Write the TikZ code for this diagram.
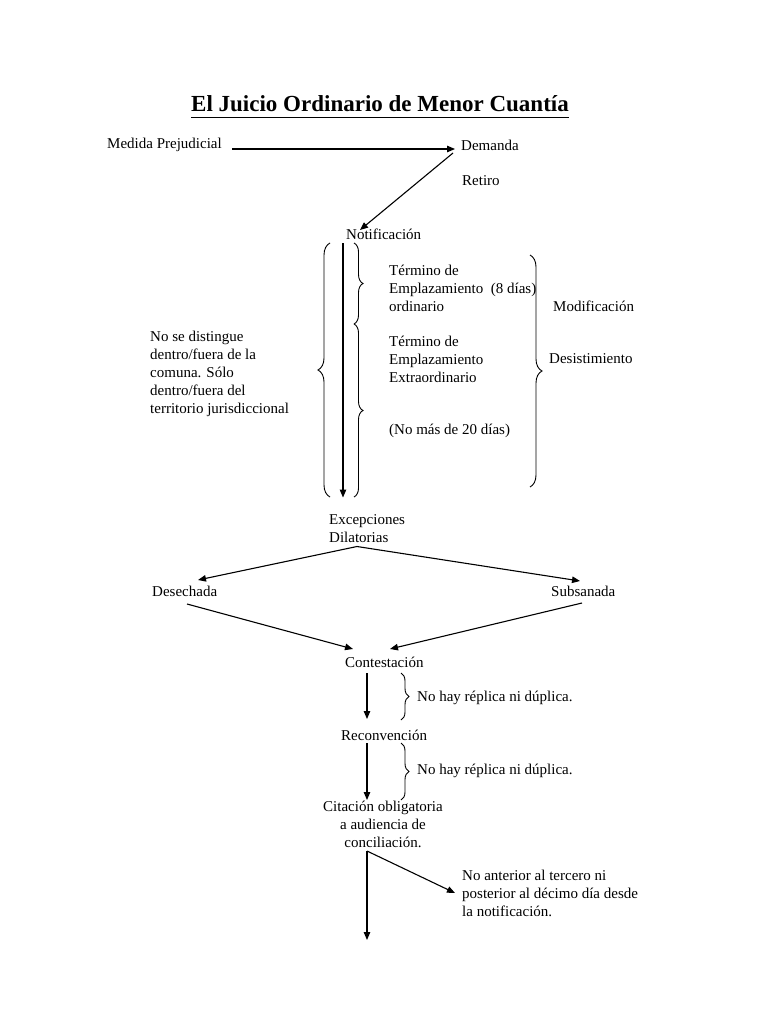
\documentclass[tikz,border=0pt]{standalone}
\usepackage{fontspec}
\setmainfont{Liberation Serif}
\usetikzlibrary{arrows.meta,calc,decorations.pathreplacing}
\begin{document}
\begin{tikzpicture}[x=1pt,y=-1pt,
  lbl/.style={inner sep=0pt,anchor=west,font=\fontsize{15}{18}\selectfont,align=left},
  arr/.style={line width=1.1pt,-{Triangle[length=8pt,width=6.5pt]}},
  brc/.style={line width=0.9pt,decorate,decoration={brace,amplitude=#1}},
  brc/.default=10pt]
\useasboundingbox (0,0) rectangle (768,1024);
\fill[white] (0,0) rectangle (768,1024);
% title
\node[inner sep=0pt,font=\fontsize{23}{28}\selectfont\bfseries] (title) at (380,104) {El Juicio Ordinario de Menor Cuantía};
\draw[line width=1.3pt] ([yshift=-6pt]title.base west) -- ([yshift=-6pt]title.base east);
% nodes
\node[lbl] (med) at (107,145) {Medida Prejudicial};
\node[lbl] (dem) at (461,145) {Demanda};
\node[lbl] (ret) at (462,181) {Retiro};
\node[lbl] (notif) at (346,234) {Notificación};
\node[lbl] (t1) at (389,288) {Término de\\Emplazamiento~~(8 días)\\ordinario};
\node[lbl] (t2) at (389,359) {Término de\\Emplazamiento\\Extraordinario};
\node[lbl] (nomas) at (389,431) {(No más de 20 días)};
\node[lbl] (mod) at (553,306) {Modificación};
\node[lbl] (des1) at (549,359) {Desistimiento};
\node[lbl] (nose) at (150,374) {No se distingue\\dentro/fuera de la\\comuna. Sólo\\dentro/fuera del\\territorio jurisdiccional};
\node[lbl] (exc) at (329,528.5) {Excepciones\\Dilatorias};
\node[lbl] (des) at (152,591) {Desechada};
\node[lbl] (sub) at (551,591) {Subsanada};
\node[lbl] (cont) at (345,662) {Contestación};
\node[lbl] (nh1) at (417,698) {No hay réplica ni dúplica.};
\node[lbl] (rec) at (341,735) {Reconvención};
\node[lbl] (nh2) at (417,771) {No hay réplica ni dúplica.};
\node[lbl,anchor=center,align=center] (cit) at (383,824) {Citación obligatoria\\a audiencia de\\conciliación.};
\node[lbl] (noant) at (462,893) {No anterior al tercero ni\\posterior al décimo día desde\\la notificación.};
\coordinate (fin) at (367,940);
% connectors
\draw[arr] ($(med.west)+(125,4)$) -- ($(dem.west)+(-6,4)$);
\draw[arr] ($(dem.west)+(-8,8)$) -- ($(notif.west)+(14,-4)$);
\draw[arr] ($(notif.west)+(-3,9)$) -- ($(exc.west)+(14,-31)$);
\draw[arr] ($(exc.west)+(28,18)$) -- ($(des.west)+(46,-11)$);
\draw[arr] ($(exc.west)+(28,18)$) -- ($(sub.west)+(29,-10)$);
\draw[arr] ($(des.west)+(35,13)$) -- ($(cont.west)+(8,-13)$);
\draw[arr] ($(sub.west)+(31,12)$) -- ($(cont.west)+(45,-13)$);
\draw[arr] ($(cont.west)+(22,11)$) -- ($(rec.west)+(26,-16)$);
\draw[arr] ($(rec.west)+(26,8)$) -- ($(cit.center)+(-16,-24)$);
\draw[arr] ($(cit.center)+(-16,27)$) -- ($(noant.west)+(-7,0)$);
\draw[arr] ($(cit.center)+(-16,27)$) -- (fin);
% braces
\draw[brc=12pt] (330,497) -- (330,243);
\draw[brc=9pt] (354,243) -- (354,324);
\draw[brc=9pt] (354,324) -- (354,497);
\draw[brc=12pt] (530,255) -- (530,487);
\draw[brc=8pt] (401,673) -- (401,720);
\draw[brc=8pt] (401,743) -- (401,800);
\end{tikzpicture}
\end{document}
